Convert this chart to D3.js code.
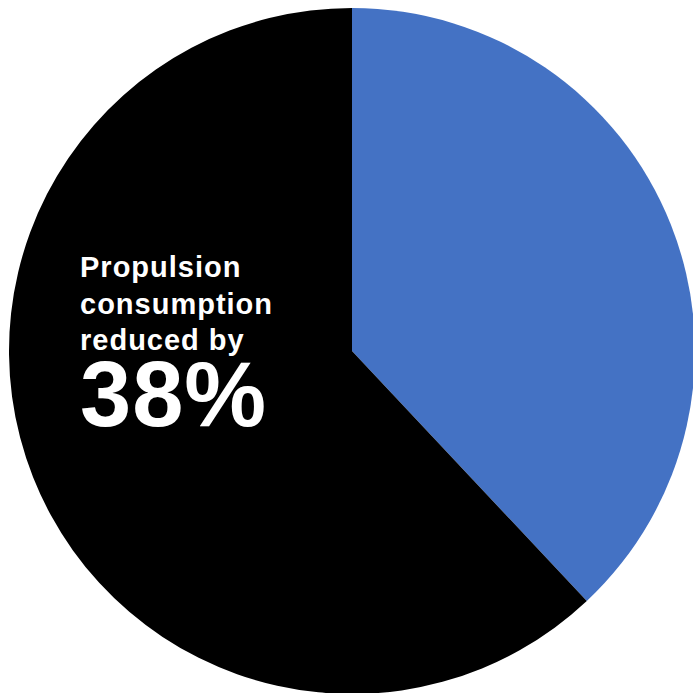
<!DOCTYPE html>
<html>
<head>
<meta charset="utf-8">
<script src="https://cdn.jsdelivr.net/npm/d3@7"></script>
<style>
  html, body { margin: 0; padding: 0; background: #ffffff; }
  svg { display: block; }
</style>
</head>
<body>
<svg id="chart" width="693" height="693"></svg>
<script>
// Share of propulsion consumption: saved vs remaining
const categories = ["Reduction", "Remaining"];
const values = [38, 62];
const colors = ["#4472C4", "#000000"];
const labelLines = ["Propulsion", "consumption", "reduced by"];
const labelValue = "38%";

const width = 693, height = 693;
const cx = 352, cy = 351, radius = 343;

const svg = d3.select("#chart");
const g = svg.append("g").attr("transform", `translate(${cx},${cy})`);

const pie = d3.pie().sort(null).value(d => d.value);
const arc = d3.arc().innerRadius(0).outerRadius(radius);

const data = categories.map((c, i) => ({ category: c, value: values[i] }));

g.selectAll("path.slice")
  .data(pie(data))
  .join("path")
  .attr("class", "slice")
  .attr("d", arc)
  .attr("fill", (d, i) => colors[i]);

// Callout text inside the dark slice
const text = svg.append("g")
  .attr("font-family", "Liberation Sans, Arial, sans-serif")
  .attr("font-weight", "bold")
  .attr("fill", "#ffffff");

text.selectAll("text.line")
  .data(labelLines)
  .join("text")
  .attr("class", "line")
  .attr("x", 80)
  .attr("y", (d, i) => 277 + i * 36.5)
  .attr("font-size", 29)
  .attr("letter-spacing", 1)
  .text(d => d);

text.append("text")
  .attr("x", 80)
  .attr("y", 426)
  .attr("font-size", 92)
  .attr("letter-spacing", 1)
  .text(labelValue);
</script>
</body>
</html>
